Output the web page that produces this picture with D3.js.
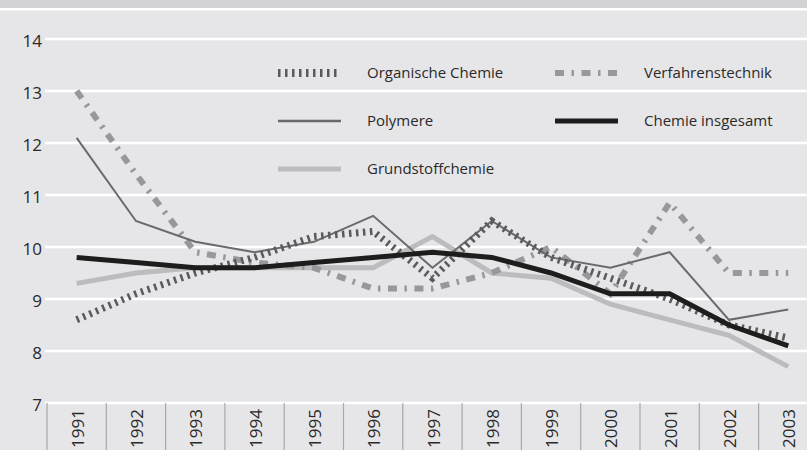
<!DOCTYPE html>
<html>
<head>
<meta charset="utf-8">
<script src="https://cdn.jsdelivr.net/npm/d3@7"></script>
<style>
  html, body { margin: 0; padding: 0; background: #e6e6e8; }
  svg { display: block; }
  text { font-family: "Open Sans", "DejaVu Sans", sans-serif; fill: #2a2a2a; }
</style>
</head>
<body>
<svg id="chart" width="807" height="450"></svg>
<script>
const years = ["1991","1992","1993","1994","1995","1996","1997","1998","1999","2000","2001","2002","2003"];
const yTicks = [7, 8, 9, 10, 11, 12, 13, 14];

const organischeChemie  = [8.6, 9.1, 9.5, 9.8, 10.2, 10.3, 9.4, 10.5, 9.8, 9.4, 9.0, 8.5, 8.25];
const verfahrenstechnik = [13.0, 11.4, 9.9, 9.7, 9.6, 9.2, 9.2, 9.5, 10.0, 9.1, 10.85, 9.5, 9.5];
const polymere          = [12.1, 10.5, 10.1, 9.9, 10.1, 10.6, 9.6, 10.5, 9.8, 9.6, 9.9, 8.6, 8.8];
const chemieInsgesamt   = [9.8, 9.7, 9.6, 9.6, 9.7, 9.8, 9.9, 9.8, 9.5, 9.1, 9.1, 8.5, 8.1];
const grundstoffchemie  = [9.3, 9.5, 9.6, 9.6, 9.6, 9.6, 10.2, 9.5, 9.4, 8.9, 8.6, 8.3, 7.7];

const seriesNames = ["Organische Chemie", "Verfahrenstechnik", "Polymere", "Chemie insgesamt", "Grundstoffchemie"];

const styles = {
  "Organische Chemie": { color: "#5a5a5c", width: 7, dash: "2.5,4.5" },
  "Verfahrenstechnik": { color: "#98989a", width: 6, dash: "9,7.5,2.5,7.5" },
  "Polymere":          { color: "#6a6a6c", width: 2, dash: null },
  "Chemie insgesamt":  { color: "#1e1c1c", width: 5, dash: null },
  "Grundstoffchemie":  { color: "#bcbcbe", width: 5, dash: null }
};
const dataByName = {
  "Organische Chemie": organischeChemie,
  "Verfahrenstechnik": verfahrenstechnik,
  "Polymere": polymere,
  "Chemie insgesamt": chemieInsgesamt,
  "Grundstoffchemie": grundstoffchemie
};

const svg = d3.select("#chart");
const W = 807, H = 450;

// top band
svg.append("rect").attr("x", 0).attr("y", 0).attr("width", W).attr("height", 8).attr("fill", "#d3d3d5");
svg.append("rect").attr("x", 0).attr("y", 8).attr("width", W).attr("height", 2.5).attr("fill", "#ffffff");

const x = d3.scaleBand().domain(years).range([47, 47 + 13 * 59.3]).padding(0);
const y = d3.scaleLinear().domain([7, 14]).range([403, 39]);
const cx = d => x(d) + x.bandwidth() / 2;

// gridlines
svg.append("g").selectAll("line").data(yTicks).join("line")
  .attr("x1", 45).attr("x2", W)
  .attr("y1", d => y(d)).attr("y2", d => y(d))
  .attr("stroke", "#ffffff").attr("stroke-width", 2.5);

// y tick labels
svg.append("g").selectAll("text").data(yTicks).join("text")
  .attr("x", 42).attr("y", d => y(d) + 7.5)
  .attr("text-anchor", "end")
  .style("font-size", "17px")
  .text(d => d);

// x axis separators
const bounds = years.map(d => x(d)).concat([x(years[years.length - 1]) + x.bandwidth()]);
svg.append("g").selectAll("line").data(bounds).join("line")
  .attr("x1", d => d).attr("x2", d => d)
  .attr("y1", y(7)).attr("y2", H)
  .attr("stroke", "#a8a8aa").attr("stroke-width", 1.2);

// year labels
svg.append("g").selectAll("text").data(years).join("text")
  .attr("transform", d => `translate(${cx(d) + 1},409) rotate(-90)`)
  .attr("text-anchor", "end")
  .attr("dy", "0.36em")
  .style("font-size", "17px")
  .text(d => d);

// lines
const line = d3.line().x((v, i) => cx(years[i])).y(v => y(v));
const drawOrder = ["Grundstoffchemie", "Verfahrenstechnik", "Polymere", "Organische Chemie", "Chemie insgesamt"];
svg.append("g").selectAll("path").data(drawOrder).join("path")
  .attr("d", n => line(dataByName[n]))
  .attr("fill", "none")
  .attr("stroke", n => styles[n].color)
  .attr("stroke-width", n => styles[n].width)
  .attr("stroke-dasharray", n => styles[n].dash)
  .attr("stroke-linejoin", "miter")
  .attr("stroke-linecap", "butt");

// legend
const legendPos = {
  "Organische Chemie": [278, 73],
  "Verfahrenstechnik": [555, 73],
  "Polymere": [278, 121],
  "Chemie insgesamt": [555, 121],
  "Grundstoffchemie": [278, 169]
};
const lg = svg.append("g").selectAll("g").data(seriesNames).join("g")
  .attr("transform", n => `translate(${legendPos[n][0]},${legendPos[n][1]})`);
lg.append("line")
  .attr("x1", 0).attr("x2", 63).attr("y1", 0).attr("y2", 0)
  .attr("stroke", n => styles[n].color)
  .attr("stroke-width", n => n === "Organische Chemie" ? 8 : (n === "Polymere" ? 2.5 : styles[n].width))
  .attr("stroke-dasharray", n => styles[n].dash);
lg.append("text")
  .attr("x", 89).attr("y", 0).attr("dy", "0.35em")
  .style("font-size", "15px")
  .text(n => n);
</script>
</body>
</html>
